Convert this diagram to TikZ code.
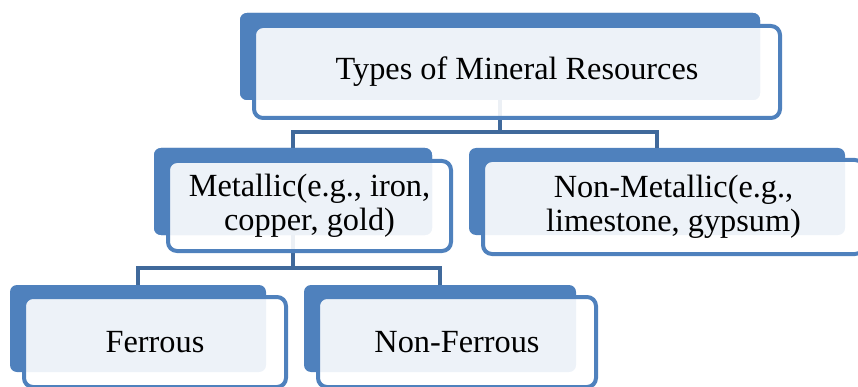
\documentclass[tikz,border=0pt]{standalone}
\usepackage{fontspec}
\setmainfont{Liberation Serif}
\definecolor{accent}{RGB}{79,129,189}
\definecolor{connblue}{RGB}{64,105,155}
\tikzset{
  backbox/.style={draw=none, fill=accent, rounded corners=7pt, inner sep=0pt, minimum width=#1},
  frontbox/.style={draw=accent, line width=4pt, fill=white, fill opacity=0.9, text opacity=1,
    rounded corners=9pt, inner sep=0pt, align=center, text=black,
    font=\fontsize{32.3}{34.5}\selectfont},
  conn/.style={draw=connblue, line width=4.8pt}
}
\begin{document}
\begin{tikzpicture}[x=1pt,y=-1pt]
\clip (0,0) rectangle (858,387);
\useasboundingbox (0,0) rectangle (858,387);
% bus coordinates
\coordinate (bus1) at (500,132);
\coordinate (bus2) at (293,268);
% back boxes
\node[backbox=520pt, minimum height=87pt] (topB) at (500,56.5) {};
\node[backbox=278pt, minimum height=87pt] (metB) at (293,191.5) {};
\node[backbox=376pt, minimum height=87pt] (nmB) at (657,191.5) {};
\node[backbox=256pt, minimum height=87pt] (ferB) at (138,328.5) {};
\node[backbox=272pt, minimum height=87pt] (nfB) at (440,328.5) {};
% connectors (behind the front boxes)
\draw[conn] (topB.center) -- (topB.center |- bus1);
\draw[conn] (metB.north) |- (nmB.north |- bus1) -- (nmB.north);
\draw[conn] (metB.center) -- (metB.center |- bus2);
\draw[conn] (ferB.north) |- (nfB.north |- bus2) -- (nfB.north);
% redraw back boxes over connector stubs
\node[backbox=520pt, minimum height=87pt] at (topB) {};
\node[backbox=278pt, minimum height=87pt] at (metB) {};
% front boxes
\node[frontbox, minimum width=526pt, minimum height=92pt] (top) at (517,72) {Types of Mineral Resources};
\node[frontbox, minimum width=283pt, minimum height=90pt] (met) at (309.5,206) {Metallic(e.g., iron,\\copper, gold)};
\node[frontbox, minimum width=381pt, minimum height=94pt] (nm) at (673.5,207) {Non-Metallic(e.g.,\\limestone, gypsum)};
\node[frontbox, minimum width=262pt, minimum height=90pt] (fer) at (155,342) {Ferrous};
\node[frontbox, minimum width=278pt, minimum height=90pt] (nf) at (457,342) {Non-Ferrous};
\end{tikzpicture}
\end{document}
